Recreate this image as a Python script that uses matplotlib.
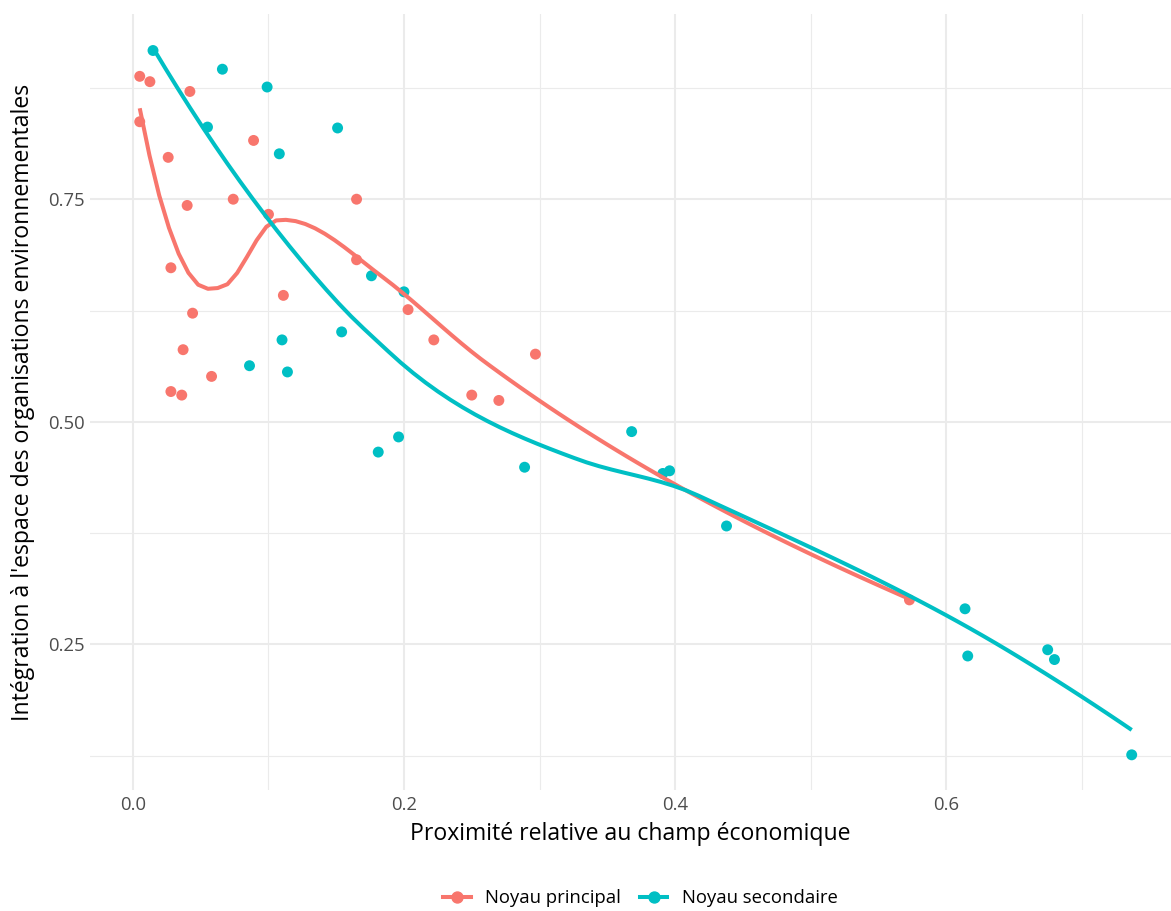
import numpy as np
import matplotlib.pyplot as plt
from matplotlib.lines import Line2D

plt.rcParams['font.family'] = ['Open Sans', 'DejaVu Sans']

# Noyau principal
prin_x = [0.005, 0.0125, 0.042, 0.005, 0.026, 0.089, 0.074, 0.040, 0.165, 0.100,
          0.028, 0.165, 0.111, 0.044, 0.203, 0.037, 0.222, 0.297, 0.058, 0.028,
          0.036, 0.250, 0.270, 0.573]
prin_y = [0.888, 0.882, 0.871, 0.837, 0.797, 0.816, 0.750, 0.743, 0.750, 0.733,
          0.673, 0.682, 0.642, 0.622, 0.626, 0.581, 0.592, 0.576, 0.551, 0.534,
          0.530, 0.530, 0.524, 0.300]

# Noyau secondaire
sec_x = [0.0148, 0.066, 0.099, 0.055, 0.151, 0.108, 0.176, 0.200, 0.154, 0.110,
         0.086, 0.114, 0.181, 0.196, 0.289, 0.368, 0.391, 0.396, 0.438, 0.614,
         0.616, 0.675, 0.680, 0.737]
sec_y = [0.917, 0.896, 0.876, 0.831, 0.830, 0.801, 0.664, 0.646, 0.601, 0.592,
         0.563, 0.556, 0.466, 0.483, 0.449, 0.489, 0.442, 0.445, 0.383, 0.290,
         0.237, 0.244, 0.233, 0.126]

groups = ["Noyau principal", "Noyau secondaire"]
colors = ["#F8766D", "#00BFC4"]


def local_fit(x, y, x0, q):
    # quadratic fit with tricube weights, returns value and slope at x0
    d = np.abs(x - x0)
    h = np.sort(d)[q - 1]
    w = np.clip(1 - (d / h) ** 3, 0, None) ** 3
    X = np.column_stack([np.ones(len(x)), x - x0, (x - x0) ** 2])
    W = np.sqrt(w)
    beta = np.linalg.lstsq(X * W[:, None], y * W, rcond=None)[0]
    return beta[0], beta[1]


def loess(x, y, xs, span=0.75, cell=0.2):
    # loess like R's default: fits at kd-tree vertices + cubic hermite
    x = np.asarray(x, float)
    y = np.asarray(y, float)
    n = len(x)
    q = int(np.floor(n * span))
    fc = int(np.floor(n * span * cell))
    srt = np.sort(x)
    mu = 0.005 * (srt[-1] - srt[0])
    verts = {srt[0] - mu, srt[-1] + mu}

    def split(pts):
        if len(pts) <= fc:
            return
        m = (len(pts) - 1) // 2
        v = (pts[m] + pts[m + 1]) / 2
        verts.add(v)
        split(pts[:m + 1])
        split(pts[m + 1:])

    split(srt)
    vx = np.array(sorted(verts))
    fits = np.array([local_fit(x, y, v, q) for v in vx])
    out = []
    for t in xs:
        i = min(max(np.searchsorted(vx, t) - 1, 0), len(vx) - 2)
        x0, x1 = vx[i], vx[i + 1]
        hh = x1 - x0
        s = (t - x0) / hh
        h00 = 2 * s**3 - 3 * s**2 + 1
        h10 = s**3 - 2 * s**2 + s
        h01 = -2 * s**3 + 3 * s**2
        h11 = s**3 - s**2
        out.append(h00 * fits[i, 0] + h10 * hh * fits[i, 1]
                   + h01 * fits[i + 1, 0] + h11 * hh * fits[i + 1, 1])
    return np.array(out)


fig = plt.figure(figsize=(11.71, 9.11), dpi=100)
ax = fig.add_axes([90 / 1171, 1 - 790 / 911, 1081 / 1171, 776 / 911])

for (gx, gy), name, col in zip([(prin_x, prin_y), (sec_x, sec_y)], groups, colors):
    ax.scatter(gx, gy, s=62, color=col, edgecolors='none', zorder=3)
    xs = np.linspace(min(gx), max(gx), 80)
    ax.plot(xs, loess(gx, gy, xs), color=col, lw=2.9, zorder=4, solid_capstyle='butt')

ax.set_xlim(-0.0317, 0.766)
ax.set_ylim(0.0865, 0.958)
ax.set_xticks([0.0, 0.2, 0.4, 0.6])
ax.set_xticklabels(["0.0", "0.2", "0.4", "0.6"])
ax.set_yticks([0.25, 0.50, 0.75])
ax.set_yticklabels(["0.25", "0.50", "0.75"])
ax.set_xticks([0.1, 0.3, 0.5, 0.7], minor=True)
ax.set_yticks([0.125, 0.375, 0.625, 0.875], minor=True)
ax.grid(which='major', color='#EBEBEB', lw=1.5)
ax.grid(which='minor', color='#EBEBEB', lw=0.8)
ax.set_axisbelow(True)
for s in ax.spines.values():
    s.set_visible(False)
ax.tick_params(which='both', length=0, labelsize=13.3, labelcolor='#4D4D4D', pad=4)

ax.set_xlabel("Proximité relative au champ économique", fontsize=16.6, labelpad=6)
ax.set_ylabel("Intégration à l'espace des organisations environnementales", fontsize=16.6, labelpad=9)

handles = [Line2D([0], [0], color=c, lw=2.9, marker='o', markersize=7.9, label=g)
           for g, c in zip(groups, colors)]
fig.legend(handles=handles, loc='lower center', bbox_to_anchor=(0.547, -0.014), ncol=2,
           frameon=False, fontsize=13.3, handlelength=1.5, columnspacing=1.0, handletextpad=0.8)

fig.savefig("out.png", dpi=100, facecolor='white')
